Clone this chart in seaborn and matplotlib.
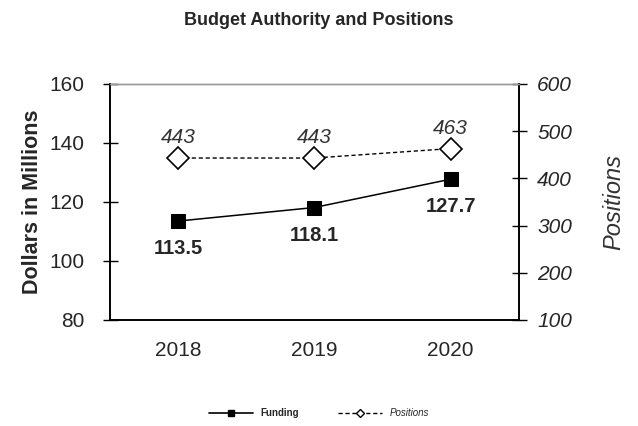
import matplotlib
matplotlib.use("Agg")
import matplotlib.pyplot as plt
import seaborn as sns
import pandas as pd
from matplotlib.lines import Line2D

# data
years = ["2018", "2019", "2020"]
funding = [113.5, 118.1, 127.7]
positions = [443, 443, 463]

sns.set_theme(style="white")
plt.rcParams['font.family'] = ['Liberation Sans', 'DejaVu Sans']

df = pd.DataFrame({"idx": range(len(years)), "funding": funding, "positions": positions})

fig = plt.figure(figsize=(6.38, 4.26), dpi=100)
ax = fig.add_axes([0.172, 0.249, 0.641, 0.554])
ax2 = ax.twinx()

sns.lineplot(data=df, x="idx", y="funding", ax=ax, color="black", lw=1.1,
             marker="s", markersize=9.5, markeredgecolor="black", zorder=3)
sns.lineplot(data=df, x="idx", y="positions", ax=ax2, color="black", lw=1.0,
             linestyle=(0, (3, 2)), marker="D", markersize=11, markerfacecolor="white",
             markeredgecolor="black", markeredgewidth=1.2, zorder=3)

ax.set_xlim(-0.5, 2.5)
ax.set_ylim(80, 160)
ax2.set_ylim(100, 600)
ax.set_yticks([80, 100, 120, 140, 160])
ax2.set_yticks([100, 200, 300, 400, 500, 600])
ax.set_xticks([0.5, 1.5])
ax.set_xticklabels([])
ax.set_xticks(range(len(years)), minor=True)
ax.set_xticklabels(years, minor=True)
ax.tick_params(axis="x", which="minor", length=0, labelsize=15, pad=15)
ax.tick_params(axis="x", which="major", direction="inout", length=10.8, width=1, color="black")
ax.tick_params(axis="y", direction="inout", length=10.8, width=1, labelsize=15, color="black", pad=13)
ax2.tick_params(axis="y", direction="inout", length=10.8, width=1, labelsize=15, color="black", pad=8)
for t in ax2.get_yticklabels():
    t.set_style("italic")

ax.set_xlabel("")
ax.set_ylabel("Dollars in Millions", fontsize=15.5, fontweight="bold", labelpad=4)
ax2.set_ylabel("Positions", fontsize=17, style="italic", color="#333333", labelpad=22)

for a in (ax, ax2):
    a.spines["top"].set_color("#999999")
    a.spines["top"].set_linewidth(1)
    for s in ("left", "right", "bottom"):
        a.spines[s].set_color("black")
        a.spines[s].set_linewidth(1.2)
ax.grid(False)
ax2.grid(False)

for i, v in enumerate(funding):
    ax.annotate(f"{v}", (i, v), xytext=(0, -20), textcoords="offset points",
                ha="center", va="center", fontsize=14.5, fontweight="bold")
for i, v in enumerate(positions):
    ax2.annotate(f"{v}", (i, v), xytext=(0, 14.5), textcoords="offset points",
                 ha="center", va="center", fontsize=15, style="italic", color="#333333")

fig.text(0.5, 0.953, "Budget Authority and Positions", ha="center", va="center",
         fontsize=13, fontweight="bold")

handles = [
    Line2D([], [], color="black", lw=1.2, marker="s", markersize=5),
    Line2D([], [], color="black", lw=1.0, linestyle=(0, (3, 2)), marker="D",
           markersize=4, markerfacecolor="white"),
]
leg = fig.legend(handles, ["Funding", "Positions"], loc="center", bbox_to_anchor=(0.5, 0.03),
                 ncol=2, frameon=False, fontsize=7, handlelength=4.5, columnspacing=4)
leg.get_texts()[0].set_fontweight("bold")
leg.get_texts()[1].set_style("italic")

fig.savefig("out.png", dpi=100)
